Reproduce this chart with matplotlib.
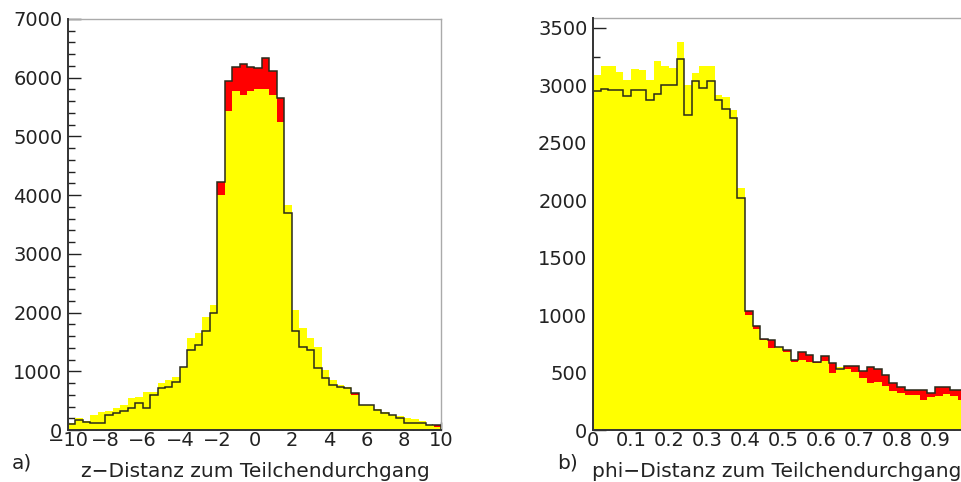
import matplotlib
matplotlib.use("Agg")
import matplotlib.pyplot as plt
import numpy as np
from matplotlib.ticker import MultipleLocator, FixedLocator, FixedFormatter

# ---- z-distance histogram (50 bins, -10 .. 10) ----
z_range = (-10.0, 10.0)
z_all = [100, 170, 140, 115, 125, 255, 284, 330, 370, 455,
         370, 600, 710, 740, 820, 1080, 1360, 1450, 1680, 1990,
         4220, 5940, 6190, 6240, 6190, 6165, 6335, 6110, 5650, 3690,
         1680, 1420, 1360, 1050, 880, 770, 740, 710, 625, 425,
         425, 340, 284, 255, 200, 125, 125, 115, 85, 85]
z_cut = [125, 200, 160, 255, 310, 330, 370, 425, 540, 570,
         650, 650, 800, 850, 910, 1080, 1560, 1650, 1930, 2130,
         4000, 5430, 5770, 5710, 5780, 5800, 5810, 5710, 5250, 3840,
         2050, 1730, 1560, 1420, 1020, 850, 770, 740, 600, 425,
         425, 350, 310, 255, 240, 200, 180, 160, 85, 57]

# ---- phi-distance histogram (50 bins, 0 .. 1) ----
phi_range = (0.0, 1.0)
phi_all = [2950, 2965, 2955, 2955, 2910, 2960, 2960, 2875, 2925, 3005,
           3005, 3230, 2745, 3035, 2975, 3035, 2875, 2795, 2715, 2020,
           1035, 905, 790, 785, 725, 695, 610, 675, 655, 595,
           640, 580, 530, 560, 560, 510, 550, 530, 480, 410,
           375, 350, 350, 350, 320, 370, 370, 350, 350, 310]
phi_cut = [3090, 3170, 3170, 3120, 3050, 3140, 3135, 3050, 3210, 3165,
           3150, 3380, 3000, 3105, 3170, 3170, 2920, 2900, 2785, 2105,
           1000, 875, 785, 712, 725, 682, 595, 610, 595, 585,
           600, 500, 550, 535, 505, 450, 410, 420, 380, 340,
           320, 305, 305, 260, 290, 300, 310, 300, 265, 300]

z_xticks = [-10, -8, -6, -4, -2, 0, 2, 4, 6, 8, 10]
z_xlabels = ["\u221210", "\u22128", "\u22126", "\u22124", "\u22122", "0", "2", "4", "6", "8", "10"]
phi_xticks = [0, 0.1, 0.2, 0.3, 0.4, 0.5, 0.6, 0.7, 0.8, 0.9, 1.0]
phi_xlabels = ["0", "0.1", "0.2", "0.3", "0.4", "0.5", "0.6", "0.7", "0.8", "0.9", "1"]

RED = "#ff0000"
YELLOW = "#ffff00"
LINE = "#2a2a1a"
TXT = "#222222"
FS_TICK = 14
FS_TITLE = 14.5

fig = plt.figure(figsize=(9.62, 4.82), dpi=100)
fig.patch.set_facecolor("white")


def draw_panel(ax, rng, all_counts, cut_counts, ymax, xticks, xlabels,
               xminor, ymajor, yminor, title, tag, tag_x):
    edges = np.linspace(rng[0], rng[1], len(all_counts) + 1)
    ax.stairs(all_counts, edges, fill=True, color=RED, linewidth=0, zorder=1)
    ax.stairs(cut_counts, edges, fill=True, color=YELLOW, linewidth=0, zorder=2)
    ax.stairs(all_counts, edges, fill=False, color=LINE, linewidth=1.1,
              baseline=0, zorder=3)
    ax.set_xlim(*rng)
    ax.set_ylim(0, ymax)

    ax.xaxis.set_major_locator(FixedLocator(xticks))
    ax.xaxis.set_major_formatter(FixedFormatter(xlabels))
    ax.xaxis.set_minor_locator(MultipleLocator(xminor))
    ax.yaxis.set_major_locator(MultipleLocator(ymajor))
    ax.yaxis.set_minor_locator(MultipleLocator(yminor))
    ax.yaxis.set_major_formatter(plt.FuncFormatter(lambda v, p: f"{int(round(v))}"))

    ax.tick_params(axis="both", which="both", direction="in", colors=TXT,
                   labelsize=FS_TICK, width=1.0)
    ax.tick_params(axis="y", which="major", length=9, pad=4)
    ax.tick_params(axis="y", which="minor", length=5)
    ax.tick_params(axis="x", which="major", length=6, pad=1)
    ax.tick_params(axis="x", which="minor", length=4)
    ax.tick_params(top=False, right=False)

    for s in ("top", "right"):
        ax.spines[s].set_color("#aaaaaa")
        ax.spines[s].set_linewidth(1.0)
    for s in ("left", "bottom"):
        ax.spines[s].set_color("#333333")
        ax.spines[s].set_linewidth(1.4)
    ax.spines["left"].set_zorder(5)
    ax.spines["bottom"].set_zorder(5)

    ax.text(0.97, -0.1, title, transform=ax.transAxes, ha="right", va="center",
            fontsize=FS_TITLE, color=TXT, clip_on=False)
    fig.text(tag_x, 0.04, tag, ha="left", va="center", fontsize=FS_TITLE, color=TXT)


ax1 = fig.add_axes([68 / 962, 52 / 482, 373 / 962, 411 / 482])
draw_panel(ax1, z_range, z_all, z_cut, 7000, z_xticks, z_xlabels,
           0.5, 1000, 200, "z\u2212Distanz zum Teilchendurchgang", "a)", 12 / 962)

ax2 = fig.add_axes([593 / 962, 52 / 482, 380 / 962, 412 / 482])
draw_panel(ax2, phi_range, phi_all, phi_cut, 3586, phi_xticks, phi_xlabels,
           0.025, 500, 250, "phi\u2212Distanz zum Teilchendurchgang", "b)", 557 / 962)

fig.savefig("out.png", dpi=100, facecolor="white")
